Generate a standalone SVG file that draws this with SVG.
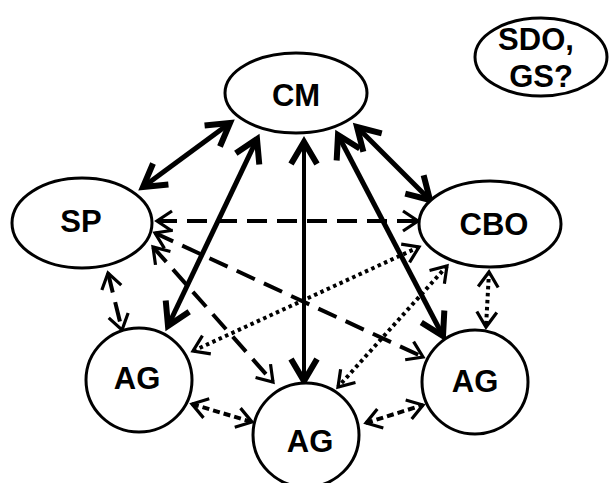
<svg xmlns="http://www.w3.org/2000/svg" width="609" height="483" viewBox="0 0 609 483">
<style>
.node{fill:#fff;stroke:#000;stroke-width:3}
.lbl{font-family:"Liberation Sans",Arial,sans-serif;font-weight:bold;font-size:31px;text-anchor:middle;fill:#000}
.thick{stroke:#000;stroke-width:5;fill:none}
.mid{stroke:#000;stroke-width:4;fill:none}
.dash{stroke:#000;stroke-width:4;fill:none;stroke-dasharray:20 10}
.dot{stroke:#000;stroke-width:4;fill:none;stroke-dasharray:3.5 3.5}
.sdash{stroke:#000;stroke-width:4;fill:none;stroke-dasharray:7 4}
</style>
<defs>
<marker id="hT" markerUnits="userSpaceOnUse" viewBox="-30 -20 40 40" refX="0" refY="0" markerWidth="40" markerHeight="40" orient="auto-start-reverse" overflow="visible">
<path d="M-22,-13 L0,0 L-22,13" fill="none" stroke="#000" stroke-width="6" stroke-linejoin="miter"/>
</marker>
<marker id="hS" markerUnits="userSpaceOnUse" viewBox="-30 -20 40 40" refX="0" refY="0" markerWidth="40" markerHeight="40" orient="auto-start-reverse" overflow="visible">
<path d="M-15,-10 L0,0 L-15,10" fill="none" stroke="#000" stroke-width="3.2" stroke-linejoin="miter"/>
</marker>
</defs>
<g id="connectors">
<line class="thick" x1="143" y1="187" x2="230" y2="123" marker-start="url(#hT)" marker-end="url(#hT)"/>
<line class="thick" x1="168" y1="326" x2="257" y2="139" marker-start="url(#hT)" marker-end="url(#hT)"/>
<line class="mid" x1="304" y1="142" x2="304" y2="381" marker-start="url(#hT)" marker-end="url(#hT)"/>
<line class="thick" x1="338" y1="135" x2="443" y2="336" marker-start="url(#hT)" marker-end="url(#hT)"/>
<line class="thick" x1="357" y1="127" x2="430" y2="200" marker-start="url(#hT)" marker-end="url(#hT)"/>
<line class="dash" x1="157" y1="221" x2="418" y2="221" marker-start="url(#hS)" marker-end="url(#hS)"/>
<line class="dash" x1="155" y1="233" x2="423" y2="357" marker-start="url(#hS)" marker-end="url(#hS)"/>
<line class="dash" x1="153" y1="247" x2="273" y2="382" marker-start="url(#hS)" marker-end="url(#hS)"/>
<line class="dash" x1="108" y1="273" x2="122" y2="330" marker-start="url(#hS)" marker-end="url(#hS)"/>
<line class="dot" x1="419" y1="247" x2="193" y2="351" marker-start="url(#hS)" marker-end="url(#hS)"/>
<line class="dot" x1="447" y1="266" x2="338" y2="387" marker-start="url(#hS)" marker-end="url(#hS)"/>
<line class="dot" x1="489" y1="272" x2="486" y2="327" marker-start="url(#hS)" marker-end="url(#hS)"/>
<line class="sdash" x1="192" y1="404" x2="252" y2="422" marker-start="url(#hS)" marker-end="url(#hS)"/>
<line class="sdash" x1="366" y1="423" x2="423" y2="405" marker-start="url(#hS)" marker-end="url(#hS)"/>
</g>
<g id="CM"><ellipse class="node" cx="296" cy="93" rx="71" ry="40"/><text class="lbl" x="296" y="106">CM</text></g>
<g id="SDO"><ellipse class="node" cx="541" cy="57" rx="66" ry="39"/><text class="lbl" x="536" y="50">SDO,</text><text class="lbl" x="541" y="87">GS?</text></g>
<g id="SP"><ellipse class="node" cx="82" cy="223" rx="70" ry="45"/><text class="lbl" x="81" y="232">SP</text></g>
<g id="CBO"><ellipse class="node" cx="490" cy="224" rx="71" ry="43"/><text class="lbl" x="494" y="235">CBO</text></g>
<g id="AG1"><ellipse class="node" cx="139" cy="380" rx="53" ry="52"/><text class="lbl" x="137" y="389">AG</text></g>
<g id="AG2"><ellipse class="node" cx="306" cy="435" rx="53" ry="52"/><text class="lbl" x="310" y="452">AG</text></g>
<g id="AG3"><ellipse class="node" cx="475" cy="382" rx="53" ry="52"/><text class="lbl" x="475" y="392">AG</text></g>
</svg>
